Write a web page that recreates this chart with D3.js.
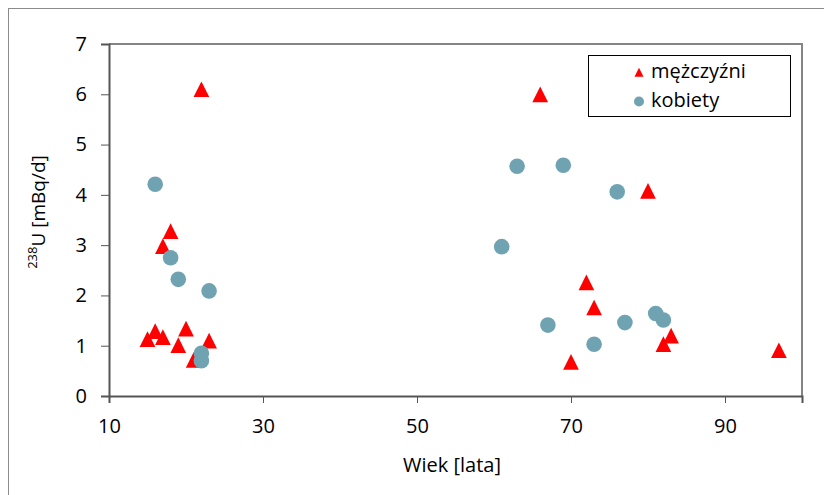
<!DOCTYPE html>
<html>
<head>
<meta charset="utf-8">
<script src="https://cdn.jsdelivr.net/npm/d3@7"></script>
<style>
  body { margin: 0; background: #fff; }
  svg { display: block; font-family: "Open Sans", "Noto Sans", sans-serif; }
</style>
</head>
<body>
<svg id="chart" width="824" height="495"></svg>
<script>
// Age (years) and daily 238U excretion (mBq/d)
const menAge   = [22, 18, 17, 15, 16, 17, 19, 20, 23, 21, 66, 80, 72, 73, 70, 83, 82, 97];
const menU     = [6.10, 3.28, 2.98, 1.13, 1.29, 1.17, 1.01, 1.34, 1.10, 0.72, 6.00, 4.08, 2.26, 1.76, 0.68, 1.20, 1.03, 0.91];
const womenAge = [16, 18, 19, 23, 22, 22, 63, 69, 76, 61, 67, 77, 81, 82, 73];
const womenU   = [4.21, 2.75, 2.32, 2.09, 0.85, 0.70, 4.57, 4.59, 4.06, 2.97, 1.41, 1.46, 1.64, 1.51, 1.03];

const xTicks = [10, 30, 50, 70, 90];
const yTicks = [0, 1, 2, 3, 4, 5, 6, 7];
const seriesNames = ["mężczyźni", "kobiety"];

const RED = "#ff0000";
const TEAL = "#70a3b2";
const INK = "#000";

const svg = d3.select("#chart");

// chart frame
svg.append("rect")
  .attr("x", 8.5).attr("y", 8.5).attr("width", 900).attr("height", 600)
  .attr("fill", "none").attr("stroke", "#8c8c8c").attr("stroke-width", 1);

const plotL = 109, plotR = 802, plotT = 44, plotB = 396;
const x = d3.scaleLinear().domain([10, 100]).range([plotL, plotR]);
const y = d3.scaleLinear().domain([0, 7]).range([plotB, plotT]);

// plot area border (top & right)
svg.append("path")
  .attr("d", `M${plotL},${plotT}H${plotR}V${plotB}`)
  .attr("fill", "none").attr("stroke", "#858585").attr("stroke-width", 2);

// axes
const xAxis = d3.axisBottom(x).tickValues(xTicks).tickFormat(d3.format("d"))
  .tickSize(7).tickPadding(16);
const yAxis = d3.axisLeft(y).tickValues(yTicks).tickFormat(d3.format("d"))
  .tickSize(8).tickPadding(14);

const gx = svg.append("g").attr("transform", `translate(0,${plotB})`).call(xAxis);
const gy = svg.append("g").attr("transform", `translate(${plotL},0)`).call(yAxis);

[gx, gy].forEach(g => {
  g.select(".domain").attr("stroke", "#555").attr("stroke-width", 2);
  g.selectAll(".tick line").attr("stroke", "#555").attr("stroke-width", 1);
  g.selectAll(".tick text").attr("fill", INK).style("font-size", "20px")
    .style("font-family", '"Open Sans", sans-serif');
});
gx.selectAll(".tick text").attr("dy", "0.71em");

// axis titles
svg.append("text")
  .attr("x", 452).attr("y", 472)
  .attr("text-anchor", "middle")
  .attr("fill", INK).style("font-size", "20px")
  .text("Wiek [lata]");

const yt = svg.append("text")
  .attr("transform", "translate(42,212) rotate(-90)")
  .attr("text-anchor", "middle")
  .attr("fill", INK).style("font-size", "19px");
yt.append("tspan").attr("dy", "-0.42em").style("font-size", "13px").text("238");
yt.append("tspan").attr("dy", "0.42em").text("U [mBq/d]");

// upward triangle centred on its bounding box; size = width (= height)
const boxTriangle = {
  draw(ctx, size) {
    const h = size / 2;
    ctx.moveTo(0, -h);
    ctx.lineTo(h, h);
    ctx.lineTo(-h, h);
    ctx.closePath();
  }
};

const men = menAge.map((a, i) => ({ a, v: menU[i] }));
const women = womenAge.map((a, i) => ({ a, v: womenU[i] }));

svg.append("g").selectAll("path").data(men).join("path")
  .attr("d", d3.symbol().type(boxTriangle).size(15.7))
  .attr("transform", d => `translate(${x(d.a)},${y(d.v)})`)
  .attr("fill", RED);

svg.append("g").selectAll("circle").data(women).join("circle")
  .attr("cx", d => x(d.a)).attr("cy", d => y(d.v))
  .attr("r", 7.8).attr("fill", TEAL);

// legend
const lg = svg.append("g");
lg.append("rect")
  .attr("x", 588.5).attr("y", 55.5).attr("width", 202).attr("height", 61)
  .attr("fill", "#fff").attr("stroke", "#000").attr("stroke-width", 1);
lg.append("path")
  .attr("d", d3.symbol().type(boxTriangle).size(9))
  .attr("transform", "translate(639,72.3)").attr("fill", RED);
lg.append("circle").attr("cx", 639).attr("cy", 101.5).attr("r", 5).attr("fill", TEAL);
lg.selectAll("text.lab").data(seriesNames).join("text")
  .attr("class", "lab")
  .attr("x", 651).attr("y", (d, i) => 78 + i * 29)
  .attr("fill", INK).style("font-size", "20px")
  .text(d => d);
</script>
</body>
</html>
